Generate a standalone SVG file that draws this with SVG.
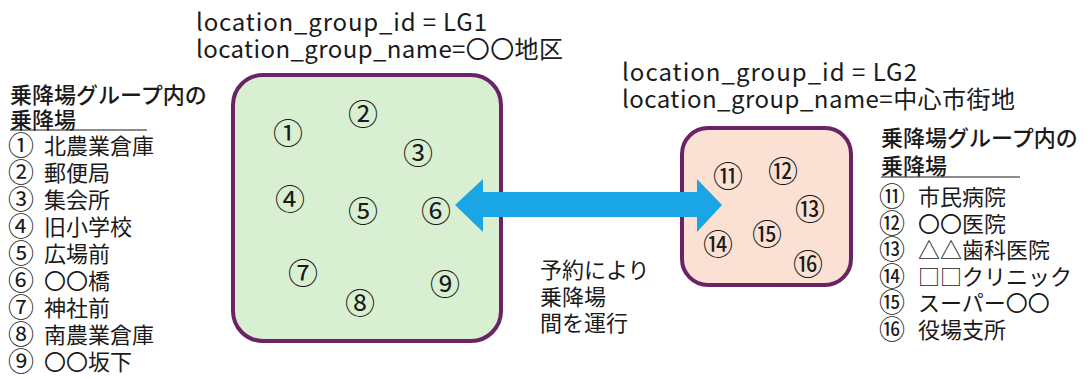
<svg xmlns="http://www.w3.org/2000/svg" width="1091" height="379" viewBox="0 0 1091 379">
<style>
text{font-family:"Noto Sans CJK JP","Noto Sans",sans-serif;fill:#1a1a1a;font-size:22px}
.h{font-weight:500}
.l{font-size:24px}
.c{font-size:26px}
.n{font-size:30px;text-anchor:middle;dominant-baseline:central}
.box{stroke:#6a2466;stroke-width:4}
</style>
<rect width="1091" height="379" fill="#fff"/>
<g id="lg1">
<rect class="box" x="233" y="75" width="268" height="266" rx="30" fill="#d9efd1"/>
<text class="n" x="288" y="131">①</text>
<text class="n" x="363" y="112">②</text>
<text class="n" x="418" y="151">③</text>
<text class="n" x="290" y="197">④</text>
<text class="n" x="363" y="209">⑤</text>
<text class="n" x="436" y="209">⑥</text>
<text class="n" x="303" y="271">⑦</text>
<text class="n" x="360" y="301">⑧</text>
<text class="n" x="445" y="282">⑨</text>
</g>
<g id="lg2">
<rect class="box" x="682" y="128" width="169" height="157" rx="26" fill="#fbe1d4"/>
<text class="n" x="728" y="174">⑪</text>
<text class="n" x="783" y="169">⑫</text>
<text class="n" x="810" y="207">⑬</text>
<text class="n" x="718" y="242">⑭</text>
<text class="n" x="767" y="232">⑮</text>
<text class="n" x="808" y="262">⑯</text>
</g>
<g id="lg1-label">
<text class="l" x="196" y="31" textLength="291" lengthAdjust="spacing">location_group_id = LG1</text>
<text class="l" x="196" y="58" textLength="367" lengthAdjust="spacing">location_group_name=〇〇地区</text>
</g>
<g id="lg2-label">
<text class="l" x="622" y="81" textLength="295" lengthAdjust="spacing">location_group_id = LG2</text>
<text class="l" x="622" y="108" textLength="393" lengthAdjust="spacing">location_group_name=中心市街地</text>
</g>
<g id="list1">
<text class="h" x="10" y="103">乗降場グループ内の</text>
<text class="h" x="10" y="128">乗降場</text>
<line x1="10" y1="130" x2="147" y2="130" stroke="#1a1a1a" stroke-width="1.2"/>
<text class="c" x="8" y="155">①</text><text x="44" y="154">北農業倉庫</text>
<text class="c" x="8" y="182">②</text><text x="44" y="181">郵便局</text>
<text class="c" x="8" y="209">③</text><text x="44" y="208">集会所</text>
<text class="c" x="8" y="236">④</text><text x="44" y="235">旧小学校</text>
<text class="c" x="8" y="263">⑤</text><text x="44" y="262">広場前</text>
<text class="c" x="8" y="290">⑥</text><text x="44" y="289">〇〇橋</text>
<text class="c" x="8" y="317">⑦</text><text x="44" y="316">神社前</text>
<text class="c" x="8" y="344">⑧</text><text x="44" y="343">南農業倉庫</text>
<text class="c" x="8" y="371">⑨</text><text x="44" y="370">〇〇坂下</text>
</g>
<g id="list2">
<text class="h" x="881" y="146">乗降場グループ内の</text>
<text class="h" x="881" y="174">乗降場</text>
<line x1="881" y1="177" x2="1020" y2="177" stroke="#1a1a1a" stroke-width="1.2"/>
<text class="c" x="879" y="206">⑪</text><text x="918" y="205">市民病院</text>
<text class="c" x="879" y="233">⑫</text><text x="918" y="232">〇〇医院</text>
<text class="c" x="879" y="259">⑬</text><text x="918" y="258">△△歯科医院</text>
<text class="c" x="879" y="286">⑭</text><text x="918" y="285">□□クリニック</text>
<text class="c" x="879" y="312">⑮</text><text x="918" y="311">スーパー〇〇</text>
<text class="c" x="879" y="339">⑯</text><text x="918" y="338">役場支所</text>
</g>
<g id="connectors">
<polygon points="455,205 483,179 483,192 697,192 697,179 722,205 697,232 697,217 483,217 483,232" fill="#1aa6e4"/>
</g>
<g id="connector-label">
<text x="540" y="278">予約により</text>
<text x="540" y="305">乗降場</text>
<text x="540" y="331">間を運行</text>
</g>
</svg>
